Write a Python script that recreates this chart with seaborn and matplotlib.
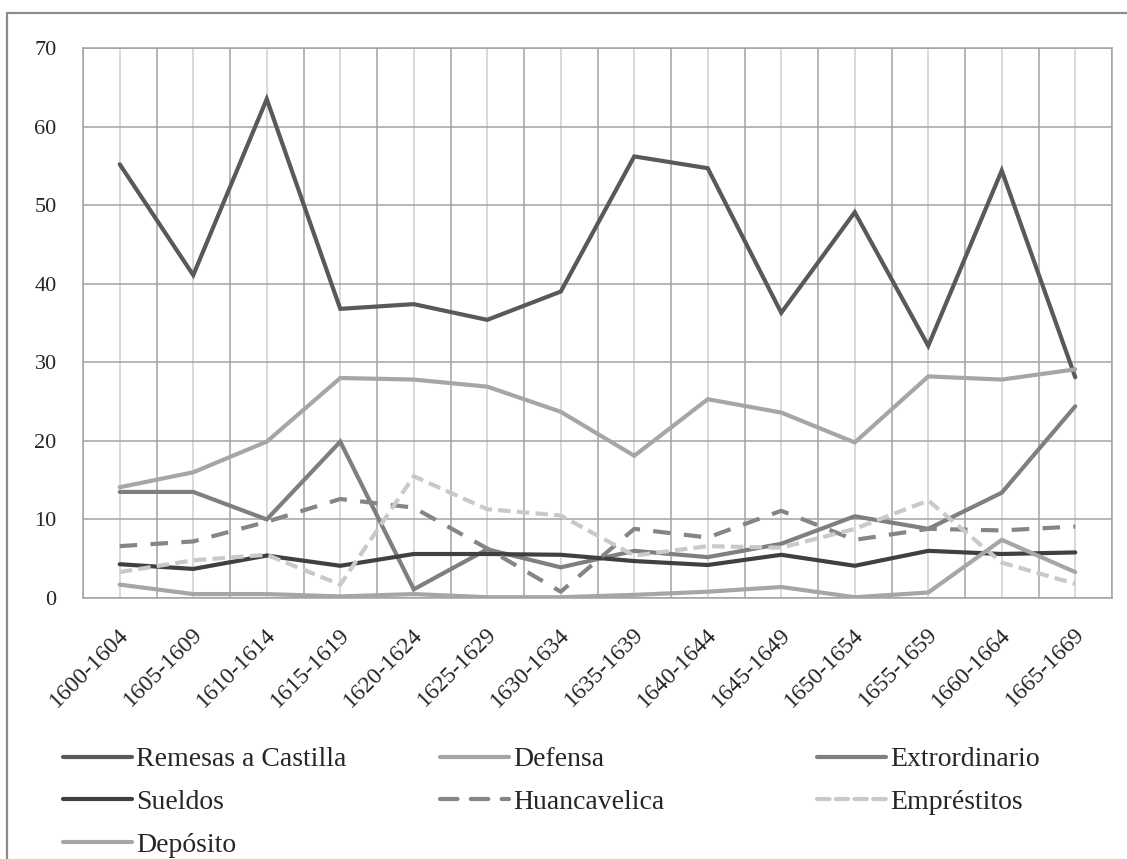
import numpy as np
import pandas as pd
import matplotlib
matplotlib.use("Agg")
import matplotlib.pyplot as plt
from matplotlib.lines import Line2D
from matplotlib.patches import Rectangle
from matplotlib.transforms import ScaledTranslation
import seaborn as sns

# Five-year periods
periods = ["1600-1604", "1605-1609", "1610-1614", "1615-1619", "1620-1624",
           "1625-1629", "1630-1634", "1635-1639", "1640-1644", "1645-1649",
           "1650-1654", "1655-1659", "1660-1664", "1665-1669"]

# Share of spending per item (%)
remesas = [55.2, 41.1, 63.5, 36.8, 37.4, 35.4, 39.0, 56.2, 54.7, 36.3, 49.1, 32.1, 54.4, 28.1]
defensa = [14.1, 16.0, 19.9, 28.0, 27.8, 26.9, 23.7, 18.1, 25.3, 23.6, 19.8, 28.2, 27.8, 29.1]
extraordinario = [13.5, 13.5, 10.0, 19.9, 1.1, 6.2, 3.9, 6.0, 5.2, 6.9, 10.4, 8.8, 13.4, 24.4]
sueldos = [4.3, 3.7, 5.4, 4.1, 5.6, 5.6, 5.5, 4.7, 4.2, 5.5, 4.1, 6.0, 5.6, 5.8]
huancavelica = [6.6, 7.2, 9.7, 12.6, 11.5, 6.3, 0.8, 8.8, 7.7, 11.1, 7.4, 8.8, 8.6, 9.1]
emprestitos = [3.3, 4.8, 5.5, 1.7, 15.5, 11.3, 10.5, 5.4, 6.6, 6.4, 8.8, 12.4, 4.5, 1.8]
deposito = [1.7, 0.5, 0.5, 0.2, 0.5, 0.1, 0.1, 0.4, 0.8, 1.4, 0.1, 0.7, 7.4, 3.3]

series_names = ["Remesas a Castilla", "Defensa", "Extrordinario", "Sueldos",
                "Huancavelica", "Empréstitos", "Depósito"]
series_values = [remesas, defensa, extraordinario, sueldos,
                 huancavelica, emprestitos, deposito]
series_colors = ["#595959", "#a6a6a6", "#7f7f7f", "#404040",
                 "#858585", "#c9c9c9", "#a6a6a6"]
series_styles = ["-", "-", "-", "-", (0, (4.2, 3.2)), (0, (3.0, 1.5)), "-"]

sns.set_theme(style="white")
plt.rcParams["font.family"] = ["Liberation Serif", "DejaVu Serif"]

W, H = 1127, 859
fig = plt.figure(figsize=(W / 100, H / 100), dpi=100)
ax = fig.add_axes([83 / W, 1 - 598 / H, (1112 - 83) / W, (598 - 48) / H])

x = np.arange(len(periods))
LW = 3.0
for name, vals, col, ls in zip(series_names, series_values, series_colors, series_styles):
    df = pd.DataFrame({"x": x, "y": vals})
    sns.lineplot(data=df, x="x", y="y", ax=ax, color=col, linewidth=LW,
                 linestyle=ls, sort=False, errorbar=None, label=None,
                 legend=False, solid_joinstyle="miter")

ax.set_xlim(-0.5, len(periods) - 0.5)
ax.set_ylim(0, 70)
ax.set_yticks(np.arange(0, 71, 10))
ax.set_xticks(x)
ax.set_xticks(np.arange(-0.5, len(periods), 1.0), minor=True)
ax.set_xticklabels(periods, rotation=45, ha="right", va="center",
                   rotation_mode="anchor", fontsize=17)
ax.tick_params(axis="y", labelsize=16, length=0, pad=19)
ax.tick_params(axis="x", which="both", length=0, pad=24)
shift = ScaledTranslation(6 / 100, 0, fig.dpi_scale_trans)
for lbl in ax.get_xticklabels():
    lbl.set_transform(lbl.get_transform() + shift)
ax.set_xlabel("")
ax.set_ylabel("")

# Gridlines: darker at period boundaries and value levels, lighter at periods
ax.grid(False)
ax.yaxis.grid(True, color="#a3a3a3", linewidth=1.1)
ax.xaxis.grid(True, which="minor", color="#a3a3a3", linewidth=1.1)
ax.xaxis.grid(True, which="major", color="#d0d0d0", linewidth=1.1)
ax.set_axisbelow(True)
for s in ax.spines.values():
    s.set_visible(True)
    s.set_color("#a3a3a3")
    s.set_linewidth(1.1)

# Legend in three columns
def handle(i):
    return Line2D([], [], color=series_colors[i], linewidth=LW,
                  linestyle=series_styles[i], solid_capstyle="round",
                  dash_capstyle="round")

columns = [([0, 3, 6], 63), ([1, 4], 440), ([2, 5], 817)]
for idx, xpix in columns:
    leg = fig.legend([handle(i) for i in idx], [series_names[i] for i in idx],
                     loc="upper left", bbox_to_anchor=(xpix / W, 1 - 747 / H),
                     frameon=False, fontsize=20, handlelength=2.5,
                     handletextpad=0.12, labelspacing=0.62, borderaxespad=0,
                     borderpad=0)

# Outer chart frame
fig.add_artist(Rectangle((7 / W, -0.1), 1.2, 1 - 13 / H + 0.1,
                         transform=fig.transFigure, fill=False,
                         edgecolor="#8c8c8c", linewidth=1.6))

fig.savefig("out.png", dpi=100)
